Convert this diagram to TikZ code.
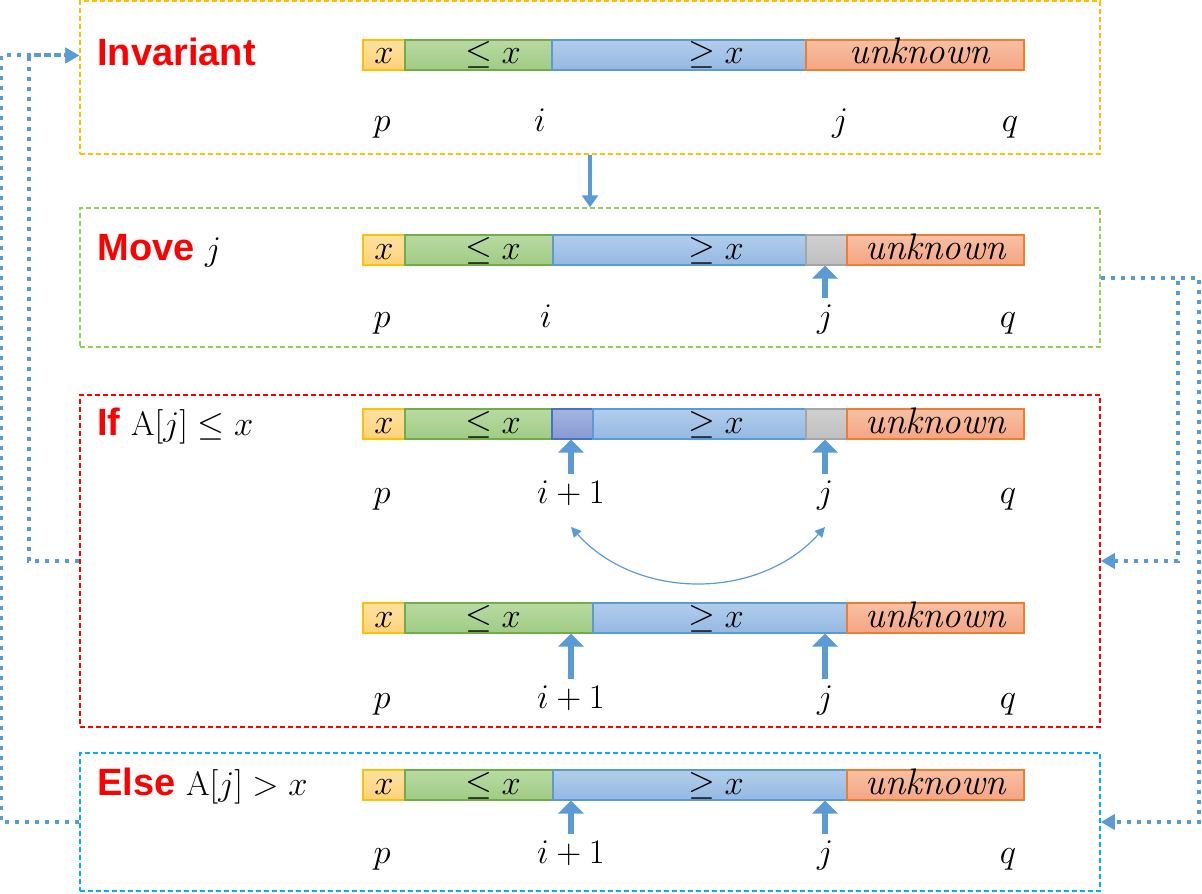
\documentclass[tikz,border=0pt]{standalone}
\usepackage{amsmath}
\usepackage{fontspec}
\newfontfamily\headfont{Liberation Sans}
\usetikzlibrary{arrows.meta}

\definecolor{xline}{HTML}{FFC000}
\definecolor{xtop}{HTML}{FFE1A3}
\definecolor{xbot}{HTML}{FFD27A}
\definecolor{leline}{HTML}{70AD47}
\definecolor{letop}{HTML}{B9DAA3}
\definecolor{lebot}{HTML}{9FCB84}
\definecolor{geline}{HTML}{5B9BD5}
\definecolor{getop}{HTML}{B2CDEB}
\definecolor{gebot}{HTML}{94B9E2}
\definecolor{unline}{HTML}{ED7D31}
\definecolor{untop}{HTML}{F7C0A3}
\definecolor{unbot}{HTML}{F4A583}
\definecolor{grline}{HTML}{A5A5A5}
\definecolor{grtop}{HTML}{D0D0D0}
\definecolor{grbot}{HTML}{BFBFBF}
\definecolor{dkline}{HTML}{4472C4}
\definecolor{dktop}{HTML}{A5B4E0}
\definecolor{dkbot}{HTML}{8799D2}
\definecolor{arrowblue}{HTML}{5B9BD5}
\definecolor{moveline}{HTML}{92D050}
\definecolor{elseline}{HTML}{00B0F0}

\begin{document}
\begin{tikzpicture}[x=0.5pt,y=-0.5pt,
   font=\fontsize{17}{20}\selectfont,
   stage/.style={draw,line width=0.75pt,dash pattern=on 2.5pt off 1.5pt,minimum width=510pt,inner sep=0pt},
   cell/.style={line width=0.6pt,minimum height=15pt,inner sep=0pt},
   xcell/.style={cell,draw=xline,top color=xtop,bottom color=xbot},
   lecell/.style={cell,draw=leline,top color=letop,bottom color=lebot},
   gecell/.style={cell,draw=geline,top color=getop,bottom color=gebot},
   uncell/.style={cell,draw=unline,top color=untop,bottom color=unbot},
   grcell/.style={cell,draw=grline,top color=grtop,bottom color=grbot},
   dkcell/.style={cell,draw=dkline,top color=dktop,bottom color=dkbot},
   txt/.style={inner sep=0pt,anchor=base,font=\fontsize{18.5}{22}\selectfont},
   idx/.style={inner sep=0pt,anchor=base,text height=1.5ex,text depth=0.5ex},
   title/.style={anchor=base west,inner sep=0pt,text=red,font=\headfont\fontsize{19}{22}\selectfont\bfseries},
   ptr/.style={draw=arrowblue,line width=2.8pt,shorten <=8pt,-{Triangle[length=6.5pt,width=12.5pt]}},
   flow/.style={draw=arrowblue,line width=1.8pt,-{Triangle[length=6pt,width=8pt]}},
   backedge/.style={draw=arrowblue,line width=2pt,dash pattern=on 2pt off 3pt,-{Triangle[length=7pt,width=7.5pt]}},
   swapline/.style={draw=arrowblue,line width=0.6pt,{Triangle[length=5pt,width=5pt]}-{Triangle[length=5pt,width=5pt]}}]
   \useasboundingbox (0,0) rectangle (1202,893);

   % the four stages
   \node[stage,draw=xline,minimum height=76.5pt] (inv) at (590,77.5) {};
   \node[stage,draw=moveline,minimum height=69.5pt] (move) at (590,277.5) {};
   \node[stage,draw=red,minimum height=166pt] (iff) at (590,561) {};
   \node[stage,draw=elseline,minimum height=69pt] (els) at (590,822) {};

   \node[title] (invt) at (97,66) {Invariant};
   \node[title] (movet) at (97,260) {Move \textcolor{black}{\fontsize{17}{20}\selectfont$j$}};
   \node[title] (ifft) at (97,435) {If \textcolor{black}{\fontsize{17}{20}\selectfont$\mathrm{A}[j]\leq x$}};
   \node[title] (elst) at (97,795) {Else \textcolor{black}{\fontsize{17}{20}\selectfont$\mathrm{A}[j]> x$}};

   % row 1: invariant
   \foreach \nm/\xa/\xb/\st/\tx/\tp in {x/363/405/xcell/$x$/384,le/405/552/lecell/$\leq x$/493,ge/552/806/gecell/$\geq x$/716,un/806/1024/uncell/\textit{unknown}/920}
   {
      \node[\st,minimum width={(\xb-\xa)*0.5pt}] (a1\nm) at ({(\xa+\xb)/2},55) {};
      \node[txt] (t1\nm) at (\tp,64) {\tx};
   }
   \foreach \nm/\xp/\tx in {p/382/$p$,i/540/$i$,j/840/$j$,q/1010/$q$}
      \node[idx] (l1\nm) at (\xp,132) {\tx};

   % row 2: move j
   \foreach \nm/\xa/\xb/\st/\tx/\tp in {x/363/405/xcell/$x$/384,le/405/553/lecell/$\leq x$/493,ge/553/806/gecell/$\geq x$/716,gr/806/847/grcell//826,un/847/1024/uncell/\textit{unknown}/936}
   {
      \node[\st,minimum width={(\xb-\xa)*0.5pt}] (a2\nm) at ({(\xa+\xb)/2},250) {};
      \node[txt] (t2\nm) at (\tp,259) {\tx};
   }
   \foreach \nm/\xp/\tx in {p/382/$p$,i/546/$i$,j/825/$j$,q/1008/$q$}
      \node[idx] (l2\nm) at (\xp,327) {\tx};
   \draw[ptr] (l2j.north) -- (l2j.north |- a2gr.south);

   % row 3: if, before the swap
   \foreach \nm/\xa/\xb/\st/\tx/\tp in {x/363/405/xcell/$x$/384,le/405/552/lecell/$\leq x$/493,dk/552/593/dkcell//572,ge/593/806/gecell/$\geq x$/716,gr/806/847/grcell//826,un/847/1024/uncell/\textit{unknown}/936}
   {
      \node[\st,minimum width={(\xb-\xa)*0.5pt}] (a3\nm) at ({(\xa+\xb)/2},424) {};
      \node[txt] (t3\nm) at (\tp,433) {\tx};
   }
   \foreach \nm/\xp/\tx in {p/382/$p$,i/571/$i+1$,j/825/$j$,q/1008/$q$}
      \node[idx] (l3\nm) at (\xp,503) {\tx};
   \draw[ptr] (l3i.north) -- (l3i.north |- a3dk.south);
   \draw[ptr] (l3j.north) -- (l3j.north |- a3gr.south);
   \draw[swapline] ([yshift=-12pt]l3i.base) to[out=-48,in=-132] ([yshift=-12pt]l3j.base);

   % row 4: if, after the swap
   \foreach \nm/\xa/\xb/\st/\tx/\tp in {x/363/405/xcell/$x$/384,le/405/593/lecell/$\leq x$/493,ge/593/847/gecell/$\geq x$/716,un/847/1024/uncell/\textit{unknown}/936}
   {
      \node[\st,minimum width={(\xb-\xa)*0.5pt}] (a4\nm) at ({(\xa+\xb)/2},618) {};
      \node[txt] (t4\nm) at (\tp,627) {\tx};
   }
   \foreach \nm/\xp/\tx in {p/382/$p$,i/571/$i+1$,j/825/$j$,q/1008/$q$}
      \node[idx] (l4\nm) at (\xp,708) {\tx};
   \draw[ptr] (l4i.north) -- (l4i.north |- a4le.south);
   \draw[ptr] (l4j.north) -- (l4j.north |- a4ge.south);

   % row 5: else
   \foreach \nm/\xa/\xb/\st/\tx/\tp in {x/363/405/xcell/$x$/384,le/405/553/lecell/$\leq x$/493,ge/553/847/gecell/$\geq x$/716,un/847/1024/uncell/\textit{unknown}/936}
   {
      \node[\st,minimum width={(\xb-\xa)*0.5pt}] (a5\nm) at ({(\xa+\xb)/2},785) {};
      \node[txt] (t5\nm) at (\tp,794) {\tx};
   }
   \foreach \nm/\xp/\tx in {p/382/$p$,i/571/$i+1$,j/825/$j$,q/1008/$q$}
      \node[idx] (l5\nm) at (\xp,863) {\tx};
   \draw[ptr] (l5i.north) -- (l5i.north |- a5ge.south);
   \draw[ptr] (l5j.north) -- (l5j.north |- a5ge.south);

   % control flow
   \draw[flow] (inv.south) -- (move.north);
   \draw[backedge] (move.east) -- ++(77,0) |- (iff.east);
   \draw[backedge] (move.east) -- ++(98,0) |- (els.east);
   \draw[backedge] (iff.west) -- ++(-50,0) |- ([yshift=11pt]inv.west);
   \draw[backedge] (els.west) -- ++(-78,0) |- ([yshift=11pt]inv.west);
\end{tikzpicture}
\end{document}
